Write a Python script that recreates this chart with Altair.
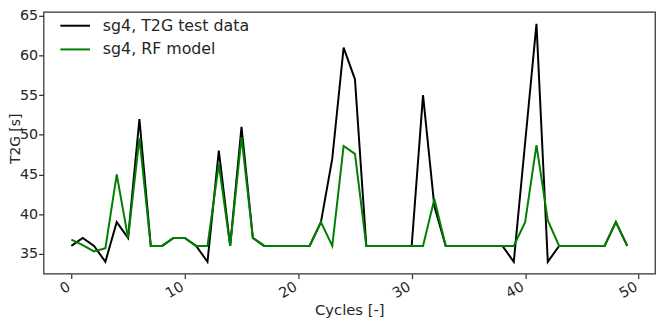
import altair as alt
import pandas as pd

cycles = list(range(50))
t2g_test = [36, 37, 36, 34, 39, 37, 52, 36, 36, 37,
            37, 36, 34, 48, 36, 51, 37, 36, 36, 36,
            36, 36, 39, 47, 61, 57, 36, 36, 36, 36,
            36, 55, 41, 36, 36, 36, 36, 36, 36, 34,
            49, 64, 34, 36, 36, 36, 36, 36, 39, 36]
rf_model = [36.8, 36.1, 35.3, 35.7, 45, 37, 49.6, 36, 36, 37,
            37, 36, 36, 46.3, 36, 49.7, 37, 36, 36, 36,
            36, 36, 39, 36, 48.6, 47.6, 36, 36, 36, 36,
            36, 36, 41.9, 36, 36, 36, 36, 36, 36, 36,
            39, 48.7, 39.2, 36, 36, 36, 36, 36, 39, 36]
series_names = ["sg4, T2G test data", "sg4, RF model"]
series_colors = ["#000000", "#008000"]
x_ticks = [0, 10, 20, 30, 40, 50]
y_ticks = [35, 40, 45, 50, 55, 60, 65]

df = pd.concat([
    pd.DataFrame({"cycle": cycles, "t2g": t2g_test, "series": series_names[0]}),
    pd.DataFrame({"cycle": cycles, "t2g": rf_model, "series": series_names[1]}),
])

FONT = "DejaVu Sans"
TXT = "#262626"

color = alt.Color(
    "series:N",
    scale=alt.Scale(domain=series_names, range=series_colors),
    legend=alt.Legend(
        title=None, orient="none", legendX=16, legendY=-2,
        symbolType="stroke", symbolSize=900, symbolStrokeWidth=2,
        labelFont=FONT, labelFontSize=16, labelColor=TXT,
        rowPadding=-7, labelOffset=12,
    ),
)

base = alt.Chart(df).mark_line(strokeWidth=2).encode(
    x=alt.X("cycle:Q",
            scale=alt.Scale(domain=[-2.45, 51.45], nice=False, zero=False),
            axis=alt.Axis(title="Cycles [-]", values=x_ticks, labelAngle=-30,
                          labelAlign="right", labelBaseline="top",
                          labelPadding=1, labelOffset=-6,
                          titleFontSize=15, titleY=41, titleBaseline="alphabetic")),
    y=alt.Y("t2g:Q",
            scale=alt.Scale(domain=[32.5, 65.5], nice=False, zero=False),
            axis=alt.Axis(title="T2G [s]", values=y_ticks, labelPadding=1,
                          titleFontSize=14, titleX=-24, titleY=128,
                          titleAngle=-90, titleAlign="center",
                          titleBaseline="alphabetic")),
    color=color,
    order="cycle:Q",
)

chart = alt.layer(
    base.transform_filter(alt.datum.series == series_names[0]),
    base.transform_filter(alt.datum.series == series_names[1]),
).properties(
    width=619, height=265,
    autosize=alt.AutoSizeParams(type="none"),
    padding={"left": 36, "top": 2, "right": 1, "bottom": 47},
).configure_view(
    stroke="#333333", strokeWidth=1.25,
).configure_axis(
    grid=False, domain=False,
    tickColor="#333333", tickSize=5, tickWidth=1.25,
    labelFont=FONT, labelFontSize=14.5, labelColor=TXT,
    titleFont=FONT, titleColor=TXT, titleFontWeight="normal",
)

chart.save("out.html", embed_options={"renderer": "svg", "actions": False})
